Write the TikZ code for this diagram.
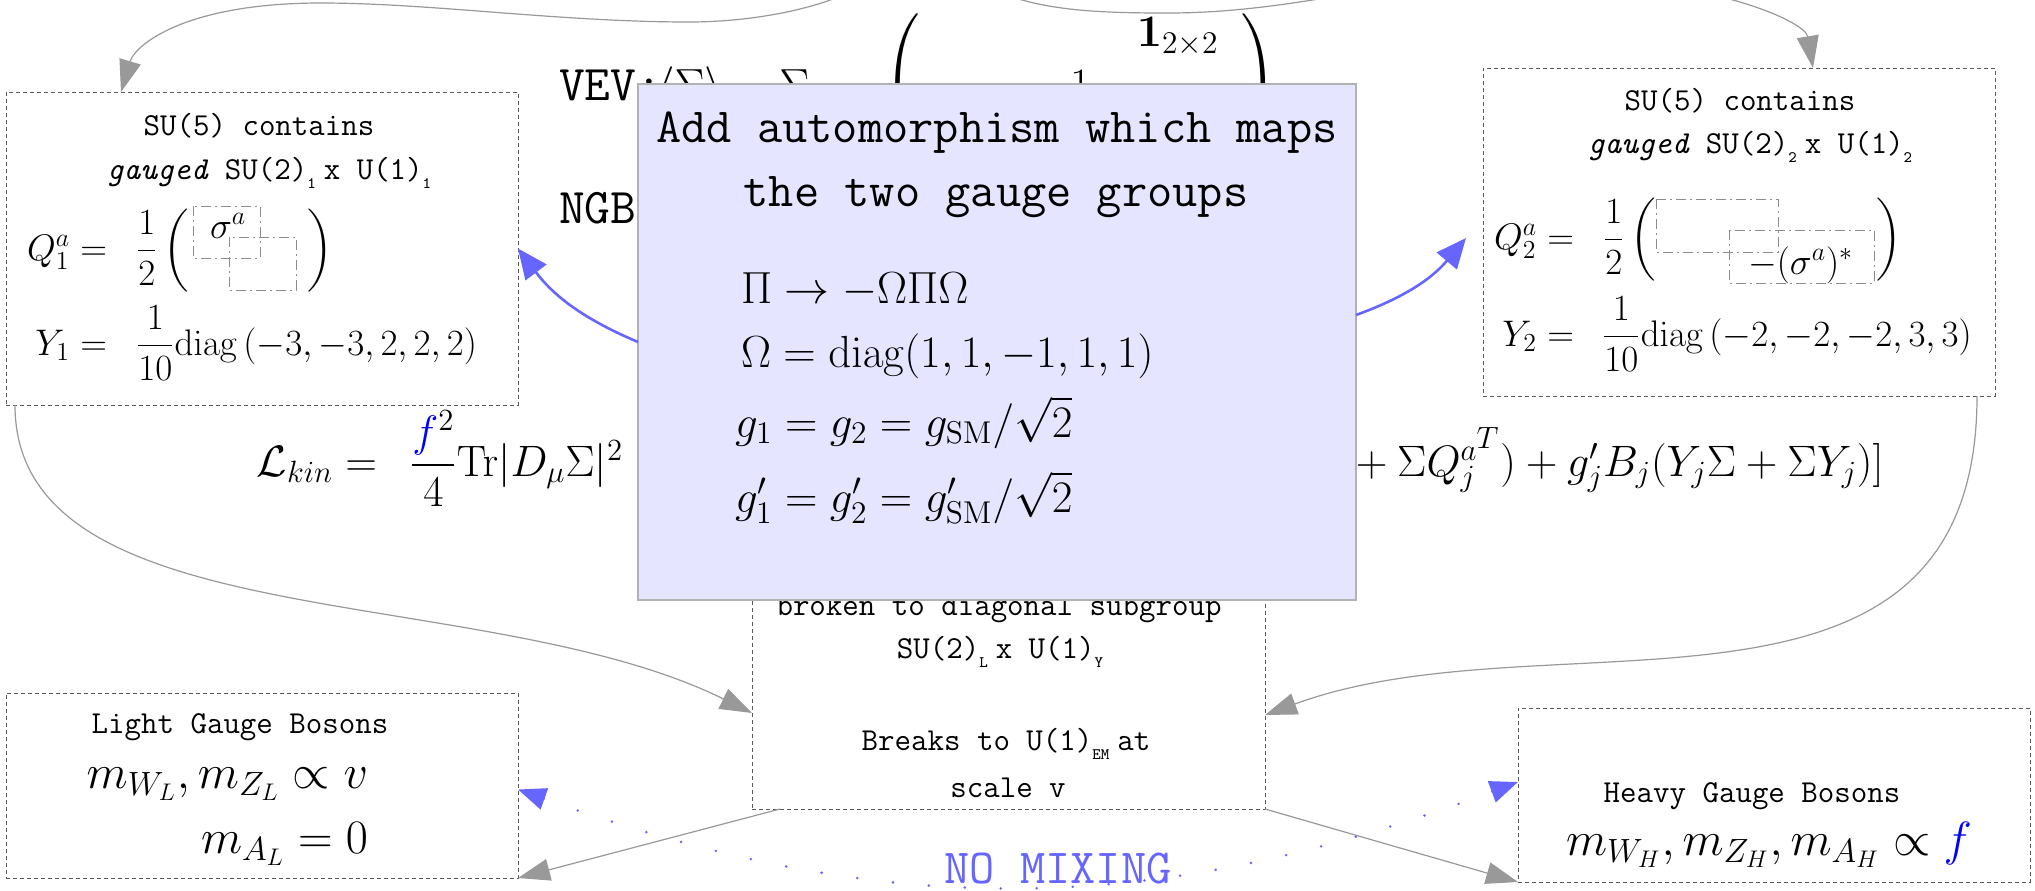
\RequirePackage{fix-cm}
\documentclass[tikz,border=0pt]{standalone}
\usepackage{amsmath}
\usetikzlibrary{arrows.meta,calc}
\newcommand\tsub[1]{\raisebox{-4.5pt}{\fontsize{8}{8}\selectfont #1}}
\newcommand\tthead{\fontsize{24.5}{30}\selectfont\ttfamily}
\newcommand\ttsmall{\fontsize{16}{20}\selectfont\ttfamily}
\newcommand\ttvev{\fontsize{25}{30}\selectfont\ttfamily}
\newcommand\mmid{\fontsize{18.5}{22}\selectfont}
\newcommand\mbig{\fontsize{22.5}{27}\selectfont}
\newcommand\mlag{\fontsize{22}{26}\selectfont}
\newcommand\mlarge{\fontsize{24}{28}\selectfont}
\begin{document}
\begin{tikzpicture}[x=0.5pt,y=-0.5pt,
  txt/.style={inner sep=0pt, outer sep=0pt},
  dbox/.style={rectangle, draw=black!65, line width=0.5pt, dash pattern=on 2pt off 1.5pt, inner sep=0pt, outer sep=0pt},
  ddbox/.style={draw=black!45, line width=0.5pt, dash pattern=on 5pt off 2pt on 1pt off 2pt},
  lav/.style={rectangle, fill=blue!10, draw=black!30, line width=0.6pt, inner sep=0pt, outer sep=0pt},
  garrow/.style={draw=black!40, line width=0.6pt, -{Triangle[length=16pt,width=11pt]}},
  barrow/.style={draw=blue!60, line width=1.3pt, -{Triangle[length=15pt,width=13pt]}},
  darrow/.style={draw=blue!60, line width=1.4pt, line cap=round, dash pattern=on 0pt off 18pt, {Triangle[length=14pt,width=11pt]}-{Triangle[length=14pt,width=11pt]}},
]
\useasboundingbox (0,0) rectangle (2035,890);
\fill[white] (0,0) rectangle (2035,890);
\clip (0,0) rectangle (2035,890);

% ---------- background formulas (partly hidden) ----------
\node[txt, anchor=base west, font=\ttvev] (vev) at (559,100) {VEV:};
\node[txt, anchor=base west, font=\fontsize{22.5}{26.5}\selectfont] (vevm) at (657,100)
  {$\langle\Sigma\rangle = \Sigma_0 = \left(\setlength\arraycolsep{11.5pt}\begin{array}{ccc} & & \mathbf{1}_{2\times2}\\ & 1 & \\ \mathbf{1}_{2\times2} & & \end{array}\right)$};
\node[txt, anchor=base west, font=\ttvev] (ngb) at (559,223) {NGB};

\node[txt, anchor=base east, font=\mlag] (lagl) at (377,476) {$\mathcal{L}_{kin} =$};
\node[txt, anchor=base west, font=\mlag] (lagm) at (410,476) {$\dfrac{{\color{blue}f}^2}{4}\mathrm{Tr}|D_\mu\Sigma|^2$};
\node[txt, anchor=base west, font=\mlag] (lagr) at (1346,476) {${}+\Sigma Q_j^{a^{\scriptstyle T}}) + g'_j B_j(Y_j\Sigma + \Sigma Y_j)]$};

% ---------- boxes ----------
\node[dbox, minimum width=256pt, minimum height=156.5pt, anchor=north west] (TL) at (6,92) {};
\node[dbox, minimum width=256pt, minimum height=164pt, anchor=north west] (TR) at (1483,68) {};
\node[dbox, minimum width=256.5pt, minimum height=124.5pt, anchor=south west] (C) at (752,809) {};
\node[dbox, minimum width=256pt, minimum height=92.5pt, anchor=north west] (LB) at (6,693) {};
\node[dbox, minimum width=256pt, minimum height=87pt, anchor=north west] (HB) at (1518,708) {};

% TL contents
\node[txt, anchor=base, font=\ttsmall] (tl1) at (259,135) {SU(5) contains};
\node[txt, anchor=base, font=\ttsmall] (tl2) at (269,179) {\textit{gauged} SU(2)\tsub{1}\hspace{4pt}x U(1)\tsub{1}};
\node[txt, anchor=base east, font=\mmid] (tlq) at (107,260) {$Q_1^a=$};
\node[txt, anchor=base west, font=\mmid] (tlqr) at (136,260) {$\dfrac{1}{2}\left(\vcenter{\hbox{\rule{0pt}{46pt}\hspace{59pt}}}\right)$};
\draw[ddbox] (193,206) rectangle (260,258);
\draw[ddbox] (229,237) rectangle (296,290);
\node[txt, anchor=base west, font=\mmid] (tls) at (210,238) {$\sigma^a$};
\node[txt, anchor=base east, font=\mmid] (tly) at (107,355) {$Y_1=$};
\node[txt, anchor=base west, font=\mmid] (tlyr) at (136,355) {$\dfrac{1}{10}\mathrm{diag}\left(-3,-3,2,2,2\right)$};

% TR contents
\node[txt, anchor=base, font=\ttsmall] (tr1) at (1740,110) {SU(5) contains};
\node[txt, anchor=base, font=\ttsmall] (tr2) at (1750,153) {\textit{gauged} SU(2)\tsub{2}\hspace{4pt}x U(1)\tsub{2}};
\node[txt, anchor=base east, font=\mmid] (trq) at (1574,249) {$Q_2^a=$};
\node[txt, anchor=base west, font=\mmid] (trqr) at (1603,249) {$\dfrac{1}{2}\left(\vcenter{\hbox{\rule{0pt}{46pt}\hspace{110pt}}}\right)$};
\draw[ddbox] (1656,199) rectangle (1778,252);
\draw[ddbox] (1729,230) rectangle (1874,283);
\node[txt, anchor=base west, font=\mmid] (trs) at (1748,274) {$-(\sigma^a)^*$};
\node[txt, anchor=base east, font=\mmid] (try) at (1574,346) {$Y_2=$};
\node[txt, anchor=base west, font=\mmid] (tryr) at (1602,346) {$\dfrac{1}{10}\mathrm{diag}\left(-2,-2,-2,3,3\right)$};

% center contents
\node[txt, anchor=base, font=\ttsmall] (c1) at (999,615) {broken to diagonal subgroup};
\node[txt, anchor=base, font=\ttsmall] (c2) at (1000,658) {SU(2)\tsub{L}\hspace{4pt}x U(1)\tsub{Y}};
\node[txt, anchor=base, font=\ttsmall] (c3) at (1006,750) {Breaks to U(1)\tsub{EM}\hspace{4pt}at};
\node[txt, anchor=base, font=\ttsmall] (c4) at (1008,797) {scale v};

% light / heavy contents
\node[txt, anchor=base, font=\ttsmall] (l1) at (240,733) {Light Gauge Bosons};
\node[txt, anchor=base east, font=\mlarge] (l2) at (368,788) {$m_{W_L}, m_{Z_L} \propto v$};
\node[txt, anchor=base east, font=\mlarge] (l3) at (368,853) {$m_{A_L} = 0$};
\node[txt, anchor=base, font=\ttsmall] (h1) at (1752,802) {Heavy Gauge Bosons};
\node[txt, anchor=base, font=\mlarge] (h2) at (1769,855) {$m_{W_H}, m_{Z_H}, m_{A_H} \propto {\color{blue}f}$};

% ---------- gray connectors ----------
\coordinate (srcL) at (905,-45);
\coordinate (srcR) at (950,-40);
\draw[garrow] (srcL) .. controls (860,5) and (760,22) .. (689,22)
   .. controls (560,22) and (430,3) .. (321,3)
   .. controls (185,3) and (135,45) .. ($(TL.north west)+(115,0)$);
\draw[garrow] (srcR) .. controls (1000,10) and (1080,13) .. (1168,13)
   .. controls (1300,13) and (1400,-25) .. (1530,-25)
   .. controls (1700,-25) and (1805,20) .. ($(TR.north west)+(330,0)$);
\coordinate (cL) at ($(C.south west)+(0,-96)$);
\coordinate (cR) at ($(C.south east)+(0,-94)$);
\draw[garrow] ($(TL.south west)+(9,0)$) .. controls +(0,235) and +(-270,-133) .. (cL);
\draw[garrow] ($(TR.south east)+(-18,0)$) .. controls +(0,364) and +(285,-105) .. (cR);
\draw[garrow] ($(C.south west)+(28,0)$) -- (LB.south east);
\draw[garrow] (C.south east) -- (HB.south west);

% ---------- no mixing ----------
\draw[darrow] ($(LB.east)+(0,4)$) to[bend right=20] ($(HB.west)+(0,-13)$);
\node[txt, anchor=base, font=\tthead, text=blue!60] (nomix) at (1058,883) {NO MIXING};

% ---------- automorphism box ----------
\node[lav, minimum width=359pt, minimum height=258pt, anchor=north west] (A) at (638,84) {};
\node[txt, anchor=base, font=\tthead] (a1) at (997,142) {Add automorphism which maps};
\node[txt, anchor=base, font=\tthead] (a2) at (996,206) {the two gauge groups};
\node[txt, anchor=base west, font=\mbig] (a3) at (741,303) {$\Pi\to-\Omega\Pi\Omega$};
\node[txt, anchor=base west, font=\mbig] (a4) at (741,367) {$\Omega=\mathrm{diag}(1,1,-1,1,1)$};
\node[txt, anchor=base west, font=\mbig] (a5) at (735,437) {$g_1=g_2=g_{\mathrm{SM}}/\sqrt{2}$};
\node[txt, anchor=base west, font=\mbig] (a6) at (735,512) {$g'_1=g'_2=g'_{\mathrm{SM}}/\sqrt{2}$};

\draw[barrow] (A.west) to[bend left=15] (TL.east);
\draw[barrow] ($(A.east)+(0,-27)$) to[bend right=15] ($(TR.west)+(-17,6)$);
\end{tikzpicture}
\end{document}
